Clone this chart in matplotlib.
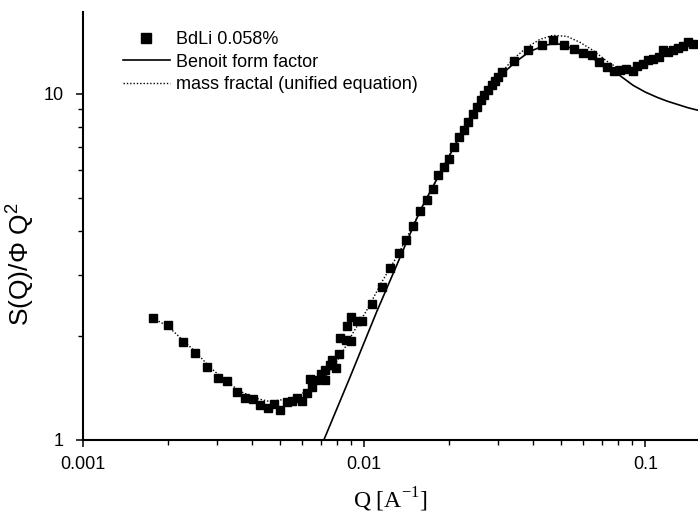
import numpy as np
import matplotlib.pyplot as plt
from matplotlib.ticker import FixedLocator, FixedFormatter, NullFormatter

# measured S(Q)/Phi Q^2, BdLi 0.058%
q_data = [0.001774, 0.002007, 0.002270, 0.002512, 0.002762, 0.003023, 0.003265,
          0.003524, 0.003771, 0.004027, 0.004278, 0.004544, 0.004761, 0.005025,
          0.005307, 0.005561, 0.005775, 0.006036, 0.006288, 0.006514, 0.006407,
          0.006730, 0.007012, 0.007263, 0.007228, 0.007548, 0.007974, 0.007717,
          0.008106, 0.008192, 0.008587, 0.008946, 0.008700, 0.008946, 0.009397,
          0.009813, 0.01065, 0.01153, 0.01234, 0.01329, 0.01407, 0.01494, 0.01578,
          0.01668, 0.01751, 0.01837, 0.01924, 0.02007, 0.02094, 0.02178, 0.02264,
          0.02345, 0.02431, 0.02512, 0.02595, 0.02673, 0.02748, 0.02840, 0.02918,
          0.02998, 0.03097, 0.03418, 0.03834, 0.04278, 0.04706, 0.05137, 0.05589,
          0.06017, 0.06448, 0.06861, 0.07288, 0.07736, 0.08128, 0.08538, 0.09020,
          0.09365, 0.09838, 0.1025, 0.1068, 0.1122, 0.1159, 0.1208, 0.1258, 0.1311,
          0.1365, 0.1422, 0.1475]
s_data = [2.244, 2.146, 1.921, 1.785, 1.627, 1.512, 1.483,
          1.375, 1.322, 1.313, 1.264, 1.239, 1.270, 1.220,
          1.287, 1.293, 1.324, 1.293, 1.364, 1.419, 1.496,
          1.489, 1.553, 1.489, 1.592, 1.646, 1.617, 1.701,
          1.767, 1.965, 1.943, 1.934, 2.132, 2.259, 2.204,
          2.204, 2.467, 2.768, 3.145, 3.455, 3.775, 4.143, 4.576,
          4.923, 5.297, 5.811, 6.142, 6.494, 7.025, 7.496, 7.837,
          8.281, 8.757, 9.150, 9.565, 9.888, 10.22, 10.57, 10.85,
          11.17, 11.54, 12.42, 13.33, 13.85, 14.25, 13.78, 13.49,
          13.09, 12.90, 12.34, 11.93, 11.60, 11.67, 11.81, 11.62,
          11.99, 12.21, 12.47, 12.61, 12.75, 13.39, 13.18, 13.39, 13.53,
          13.69, 14.09, 13.94]

# Benoit form factor
q_benoit = [0.007188, 0.008895, 0.01107, 0.01329, 0.01578, 0.01860, 0.02191,
            0.02580, 0.03040, 0.03438, 0.03888, 0.04396, 0.04772, 0.05179,
            0.05855, 0.06900, 0.07736, 0.08400, 0.09040, 0.1000, 0.1101,
            0.1200, 0.1297, 0.1420, 0.1540]
s_benoit = [1.0, 1.514, 2.340, 3.305, 4.576, 5.888, 7.531,
            9.502, 11.22, 12.31, 13.24, 13.78, 13.97, 13.78,
            13.15, 12.31, 11.60, 11.05, 10.57, 10.10, 9.757,
            9.50, 9.314, 9.10, 8.950]

# mass fractal (unified equation)
q_fractal = [0.001770, 0.002002, 0.002264, 0.002518, 0.002824, 0.003193, 0.003612,
             0.004083, 0.004619, 0.005307, 0.005904, 0.006567, 0.007367, 0.008192,
             0.009117, 0.01022, 0.01166, 0.01329, 0.01578, 0.01860, 0.02191,
             0.02580, 0.03040, 0.03382, 0.03793, 0.04219, 0.04694, 0.05265,
             0.05855, 0.06516, 0.07306, 0.08128]
s_fractal = [2.248, 2.132, 1.943, 1.794, 1.624, 1.489, 1.384,
             1.322, 1.291, 1.313, 1.348, 1.422, 1.540, 1.736,
             2.035, 2.371, 2.894, 3.462, 4.546, 5.888, 7.581,
             9.565, 11.37, 12.56, 13.60, 14.34, 14.73, 14.63,
             14.06, 13.33, 12.40, 11.75]

x_ticks = [0.001, 0.01, 0.1]
x_ticklabels = ["0.001", "0.01", "0.1"]
y_ticks = [1, 10]
y_ticklabels = ["1", "10"]

plt.rcParams['font.family'] = ['Liberation Sans', 'DejaVu Sans']

fig = plt.figure(figsize=(6.98, 5.15), dpi=100)
ax = fig.add_axes([83/698, 75/515, 615/698, 428/515])

ax.plot(q_fractal, s_fractal, color='black', linestyle=(0, (1, 1.4)), linewidth=1.0,
        label="mass fractal (unified equation)", zorder=2)
ax.plot(q_benoit, s_benoit, color='black', linestyle='-', linewidth=1.2,
        label="Benoit form factor", zorder=2)
ax.plot(q_data, s_data, linestyle='none', marker='s', markersize=5.5,
        color='black', label="BdLi 0.058%", zorder=3)

ax.set_xscale('log')
ax.set_yscale('log')
ax.set_xlim(0.001, 0.154)
ax.set_ylim(1, 17.2)

ax.xaxis.set_major_locator(FixedLocator(x_ticks))
ax.xaxis.set_major_formatter(FixedFormatter(x_ticklabels))
ax.xaxis.set_minor_formatter(NullFormatter())
ax.yaxis.set_major_locator(FixedLocator(y_ticks))
ax.yaxis.set_major_formatter(FixedFormatter(y_ticklabels))
ax.yaxis.set_minor_formatter(NullFormatter())

for side in ['top', 'right']:
    ax.spines[side].set_visible(False)
for side in ['left', 'bottom']:
    ax.spines[side].set_linewidth(1.5)

ax.tick_params(which='major', length=5, width=1.1, labelsize=13)
ax.tick_params(axis='x', which='major', pad=6.5)
ax.tick_params(axis='y', which='major', pad=9)
ax.tick_params(which='minor', length=3.5, width=1.0)

ax.set_xlabel(r"Q [A$^{\mathregular{-1}}$]", family='Liberation Serif', fontsize=17, labelpad=9)
ax.set_ylabel(r"S(Q)/$\mathregular{\Phi}$ Q$^{\mathregular{2}}$", fontsize=19)
ax.yaxis.set_label_coords(-0.076, 0.41)

h, l = ax.get_legend_handles_labels()
order = [2, 1, 0]
ax.legend([h[i] for i in order], [l[i] for i in order], loc='upper left',
          bbox_to_anchor=(123/698, 1 - 31/515), bbox_transform=fig.transFigure,
          frameon=False, fontsize=13, handlelength=2.6, handletextpad=0.33,
          labelspacing=0.31, borderpad=0, borderaxespad=0, markerscale=1.3)

fig.savefig("out.png", dpi=100)
